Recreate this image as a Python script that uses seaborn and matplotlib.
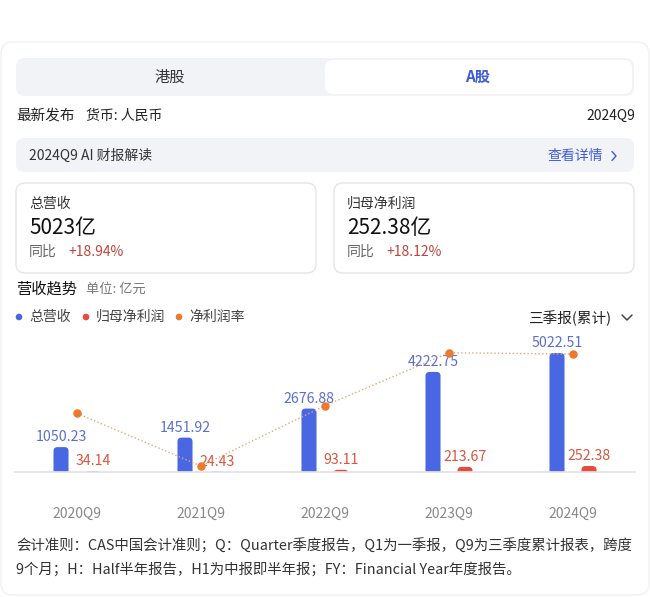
import numpy as np
import pandas as pd
import seaborn as sns
import matplotlib.pyplot as plt
from matplotlib.patches import FancyBboxPatch, Circle

# data (亿元)
periods = ['2020Q9', '2021Q9', '2022Q9', '2023Q9', '2024Q9']
revenue = [1050.23, 1451.92, 2676.88, 4222.75, 5022.51]
net_profit = [34.14, 24.43, 93.11, 213.67, 252.38]
net_margin = [3.25, 1.68, 3.48, 5.06, 5.02]  # %

series_names = ['总营收', '归母净利润', '净利润率']
bar_colors = ['#4a67e3', '#e84a3a']
label_colors = ['#5a6fd0', '#d9553f']
margin_color = '#ec7a2c'

sns.set_theme(style='white')
plt.rcParams['font.family'] = ['Noto Sans CJK SC', 'DejaVu Sans']

fig = plt.figure(figsize=(6.5, 5.97), dpi=100)
fig.patch.set_facecolor('white')

# background "page" in pixel coordinates
bg = fig.add_axes([0, 0, 1, 1])
bg.set_xlim(0, 650)
bg.set_ylim(597, 0)
bg.axis('off')

def box(x, y, w, h, fc, ec='none', r=8, lw=1):
    bg.add_patch(FancyBboxPatch((x, y), w, h, boxstyle=f'round,pad=0,rounding_size={r}',
                                fc=fc, ec=ec, lw=lw))

box(1, 42, 648, 553, 'white', ec='#f1f1f1', r=12)

# segmented control
box(16, 58, 618, 38, '#f2f3f6', r=9)
box(325, 60, 307, 34, 'white', r=8)
bg.text(170, 77, '港股', ha='center', va='center', fontsize=11, color='#333333')
bg.text(478, 77, 'A股', ha='center', va='center', fontsize=11, color='#3d5bd9', fontweight='bold')

bg.text(16, 116, '最新发布', ha='left', va='center', fontsize=10.5, color='#222222')
bg.text(86, 116, '货币: 人民币', ha='left', va='center', fontsize=10, color='#222222')
bg.text(635, 116, '2024Q9', ha='right', va='center', fontsize=10, color='#222222')

# AI bar
box(16, 138, 618, 34, '#f2f3f6', r=8)
bg.text(29, 156, '2024Q9 AI 财报解读', ha='left', va='center', fontsize=10, color='#333333')
bg.text(603, 156, '查看详情', ha='right', va='center', fontsize=10, color='#3d5bd9')
bg.plot([612, 616, 612], [151.5, 156, 160.5], color='#3d5bd9', lw=1)

# metric cards
for x0, title, val, yoy in [(16, '总营收', '5023亿', '+18.94%'),
                            (334, '归母净利润', '252.38亿', '+18.12%')]:
    box(x0, 183, 300, 90, 'white', ec='#e6e6e6', r=9)
    bg.text(x0 + 13, 204, title, ha='left', va='center', fontsize=10, color='#333333')
    bg.text(x0 + 13, 228, val, ha='left', va='center', fontsize=15, color='#111111')
    bg.text(x0 + 13, 252, '同比', ha='left', va='center', fontsize=10, color='#666666')
    bg.text(x0 + 52, 252, yoy, ha='left', va='center', fontsize=10, color='#c0443c')

bg.text(16, 289, '营收趋势', ha='left', va='center', fontsize=11, color='#111111', fontweight='medium')
bg.text(86, 289, '单位: 亿元', ha='left', va='center', fontsize=9.5, color='#777777')

# legend
for cx, col, name in [(19, bar_colors[0], series_names[0]), (86, bar_colors[1], series_names[1]),
                      (179, margin_color, series_names[2])]:
    bg.add_patch(Circle((cx, 317), 2.6, color=col))
    bg.text(cx + 10, 317, name, ha='left', va='center', fontsize=10, color='#444444')
bg.text(611, 318, '三季报(累计)', ha='right', va='center', fontsize=10.5, color='#222222')
bg.plot([622, 627, 632], [315, 320, 315], color='#444444', lw=1.1)

# footer
bg.text(16, 546, '会计准则：CAS中国会计准则；Q：Quarter季度报告，Q1为一季报，Q9为三季度累计报表，跨度',
        ha='left', va='center', fontsize=10.4, color='#333333')
bg.text(16, 569, '9个月；H：Half半年报告，H1为中报即半年报；FY：Financial Year年度报告。',
        ha='left', va='center', fontsize=10.4, color='#333333')

# chart
ax = fig.add_axes([15 / 650, 1 - 472 / 597, 620 / 650, 132 / 597])
ax.patch.set_alpha(0)
df = pd.DataFrame({'period': periods * 2,
                   'value': revenue + net_profit,
                   'series': [series_names[0]] * 5 + [series_names[1]] * 5})
sns.barplot(data=df, x='period', y='value', hue='series', palette=bar_colors, saturation=1,
            width=0.516, gap=0.53, legend=False, ax=ax)
ymax = 5570
ax.set_xlim(-0.5, len(periods) - 0.5)
ax.set_ylim(0, ymax)

# round the bar tops
x_px = len(periods) / 620
y_px = ymax / 132
for bar in list(ax.patches):
    x0, w, h = bar.get_x(), bar.get_width(), bar.get_height()
    fc = bar.get_facecolor()
    bar.set_visible(False)
    ax.add_patch(FancyBboxPatch((x0, -8 * y_px), w, h + 8 * y_px,
                                boxstyle=f'round,pad=0,rounding_size={4 * x_px}',
                                mutation_aspect=y_px / x_px, fc=fc, ec='none'))

off = 0.129
for i, (rv, npf) in enumerate(zip(revenue, net_profit)):
    ax.annotate(f'{rv:.2f}', (i - off, rv), xytext=(0, 2), textcoords='offset points',
                ha='center', va='bottom', fontsize=10.2, color=label_colors[0])
    ax.annotate(f'{npf:.2f}', (i + off, npf), xytext=(0, 2), textcoords='offset points',
                ha='center', va='bottom', fontsize=10.2, color=label_colors[1])

ax.set_xlabel('')
ax.set_ylabel('')
ax.set_yticks([])
for s in ['top', 'left', 'right']:
    ax.spines[s].set_visible(False)
ax.spines['bottom'].set_color('#e3e3e3')
ax.tick_params(axis='x', length=0, pad=25, labelsize=10, labelcolor='#888888')

ax2 = ax.twinx()
ax2.set_ylim(1.50, 5.44)
ax2.plot(range(len(periods)), net_margin, ls=':', lw=1, color='#e0a878')
ax2.scatter(range(len(periods)), net_margin, s=26, color=margin_color, zorder=3)
ax2.axis('off')

fig.savefig('out.png', dpi=100)
